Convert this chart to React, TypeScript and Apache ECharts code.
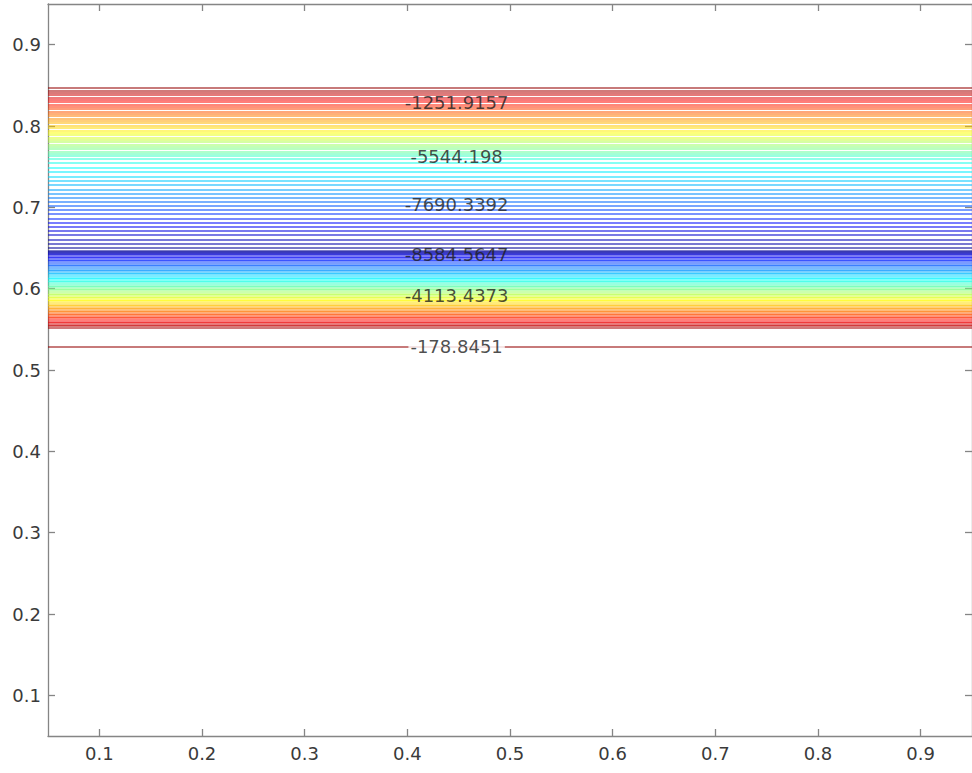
import React, { useEffect, useRef } from "react";
import * as echarts from "echarts";

// Contour levels (each drawn twice: once on the upper flank, once on the lower flank)
const levels = [
  -178.8451, -357.6902, -536.5353, -715.3804, -894.2255, -1073.0706, -1251.9157, -1430.7608,
  -1609.6059, -1788.451, -1967.2961, -2146.1412, -2324.9863, -2503.8314, -2682.6765, -2861.5216,
  -3040.3667, -3219.2118, -3398.0569, -3576.902, -3755.7471, -3934.5922, -4113.4373, -4292.2824,
  -4471.1275, -4649.9726, -4828.8177, -5007.6628, -5186.5079, -5365.353, -5544.198, -5723.0432,
  -5901.8883, -6080.7334, -6259.5785, -6438.4236, -6617.2687, -6796.1138, -6974.9589, -7153.804,
  -7332.6491, -7511.4942, -7690.3392, -7869.1844, -8048.0295, -8226.8746, -8405.7197, -8584.5647,
  -8763.4099, -8942.255, -9121.1001, -9299.9452,
];

// y position of each level on the upper flank (same order as levels)
const upperY = [
  0.8467, 0.8438, 0.8409, 0.8381, 0.8352, 0.8323, 0.8294, 0.8265, 0.8236, 0.8207, 0.8178, 0.8149,
  0.812, 0.8092, 0.8063, 0.8034, 0.8005, 0.7976, 0.7947, 0.7918, 0.7889, 0.786, 0.7831, 0.7803,
  0.7774, 0.7745, 0.7716, 0.7687, 0.7658, 0.7629, 0.76, 0.7545, 0.749, 0.7434, 0.7379, 0.7324,
  0.7275, 0.7222, 0.7172, 0.7123, 0.7069, 0.7016, 0.6967, 0.6918, 0.6865, 0.6811, 0.6762, 0.6709,
  0.666, 0.6607, 0.6558, 0.6504,
];

// y position of each level on the lower flank (same order as levels)
const lowerY = [
  0.5283, 0.5522, 0.5542, 0.5561, 0.558, 0.5599, 0.5618, 0.5637, 0.5656, 0.5675, 0.5695, 0.5713,
  0.5731, 0.5751, 0.577, 0.5789, 0.5808, 0.5827, 0.5846, 0.5865, 0.5884, 0.5904, 0.5922, 0.5942,
  0.5961, 0.5981, 0.6001, 0.602, 0.604, 0.6061, 0.6081, 0.61, 0.612, 0.614, 0.6159, 0.6179,
  0.6199, 0.6218, 0.6238, 0.6258, 0.6277, 0.6298, 0.6318, 0.6338, 0.6357, 0.6377, 0.6397, 0.6416,
  0.6429, 0.6441, 0.6453, 0.6465,
];

// inline contour labels
const labelValues = [-1251.9157, -5544.198, -7690.3392, -8584.5647, -4113.4373, -178.8451];
const labelY = [0.8295, 0.7631, 0.7029, 0.6426, 0.5922, 0.5283];
const LABEL_X = 0.448;

const tickValues = [0.1, 0.2, 0.3, 0.4, 0.5, 0.6, 0.7, 0.8, 0.9];
const X_MIN = 0.05;
const X_MAX = 0.95;
const Y_MIN = 0.05;
const Y_MAX = 0.95;
const COLOR_MIN = -9478.8;
const COLOR_MAX = 0;

function clamp01(v: number) {
  return Math.max(0, Math.min(1, v));
}
function jet(t: number) {
  const r = clamp01(Math.min(4 * t - 1.5, -4 * t + 4.5));
  const g = clamp01(Math.min(4 * t - 0.5, -4 * t + 3.5));
  const b = clamp01(Math.min(4 * t + 0.5, -4 * t + 2.5));
  return `rgb(${Math.round(r * 255)},${Math.round(g * 255)},${Math.round(b * 255)})`;
}
function levelColor(v: number) {
  return jet((v - COLOR_MIN) / (COLOR_MAX - COLOR_MIN));
}

const FONT = "DejaVu Sans";
const AXIS_COLOR = "#858585";

export default function App() {
  const ref = useRef<HTMLDivElement>(null);
  useEffect(() => {
    if (!ref.current) return;
    const chart = echarts.init(ref.current, null, { renderer: "svg" });

    const lineData: any[] = [];
    levels.forEach((lv, i) => {
      const color = levelColor(lv);
      lineData.push({ coords: [[X_MIN, upperY[i]], [X_MAX, upperY[i]]], lineStyle: { color } });
      lineData.push({ coords: [[X_MIN, lowerY[i]], [X_MAX, lowerY[i]]], lineStyle: { color } });
    });

    const labelData = labelValues.map((v, i) => {
      const isolated = v === levels[0];
      return {
        value: [LABEL_X, labelY[i], v],
        label: isolated ? { backgroundColor: "#ffffff", padding: [0, 2] } : {},
      };
    });

    const axisCommon = {
      type: "value" as const,
      splitLine: { show: false },
      axisLine: { show: true, lineStyle: { color: AXIS_COLOR, width: 1.3 } },
      axisTick: {
        show: true,
        inside: true,
        length: 7,
        customValues: tickValues,
        lineStyle: { color: AXIS_COLOR, width: 1.3 },
      },
    };

    chart.setOption({
      animation: false,
      backgroundColor: "#ffffff",
      grid: { left: 48, top: 4, width: 927, height: 732 },
      xAxis: [
        {
          ...axisCommon,
          position: "bottom",
          min: X_MIN,
          max: X_MAX,
          axisLabel: {
            customValues: tickValues,
            formatter: (v: number) => v.toFixed(1),
            fontFamily: FONT,
            fontSize: 18,
            color: "#3a3a3a",
            margin: 8,
          },
        },
        {
          ...axisCommon,
          position: "top",
          min: X_MIN,
          max: X_MAX,
          axisLabel: { show: false },
        },
      ],
      yAxis: [
        {
          ...axisCommon,
          position: "left",
          min: Y_MIN,
          max: Y_MAX,
          axisLabel: {
            customValues: tickValues,
            formatter: (v: number) => v.toFixed(1),
            fontFamily: FONT,
            fontSize: 18,
            color: "#3a3a3a",
            margin: 7,
          },
        },
        {
          ...axisCommon,
          position: "right",
          min: Y_MIN,
          max: Y_MAX,
          axisLabel: { show: false },
        },
      ],
      series: [
        {
          type: "lines",
          coordinateSystem: "cartesian2d",
          xAxisIndex: 0,
          yAxisIndex: 0,
          polyline: false,
          silent: true,
          z: 2,
          lineStyle: { width: 2, opacity: 0.52 },
          data: lineData,
        },
        {
          type: "scatter",
          xAxisIndex: 0,
          yAxisIndex: 0,
          symbol: "circle",
          symbolSize: 0.01,
          silent: true,
          z: 5,
          itemStyle: { color: "rgba(0,0,0,0)" },
          label: {
            show: true,
            position: "inside",
            formatter: (p: any) => String(p.value[2]),
            fontFamily: FONT,
            fontSize: 18,
            color: "#1e1e1e",
          },
          data: labelData,
        },
      ],
    });
    return () => chart.dispose();
  }, []);

  return (
    <div
      ref={ref}
      style={{
        position: "fixed",
        left: 0,
        top: 0,
        width: 972,
        height: 773,
        overflow: "hidden",
        background: "#fff",
      }}
    />
  );
}
